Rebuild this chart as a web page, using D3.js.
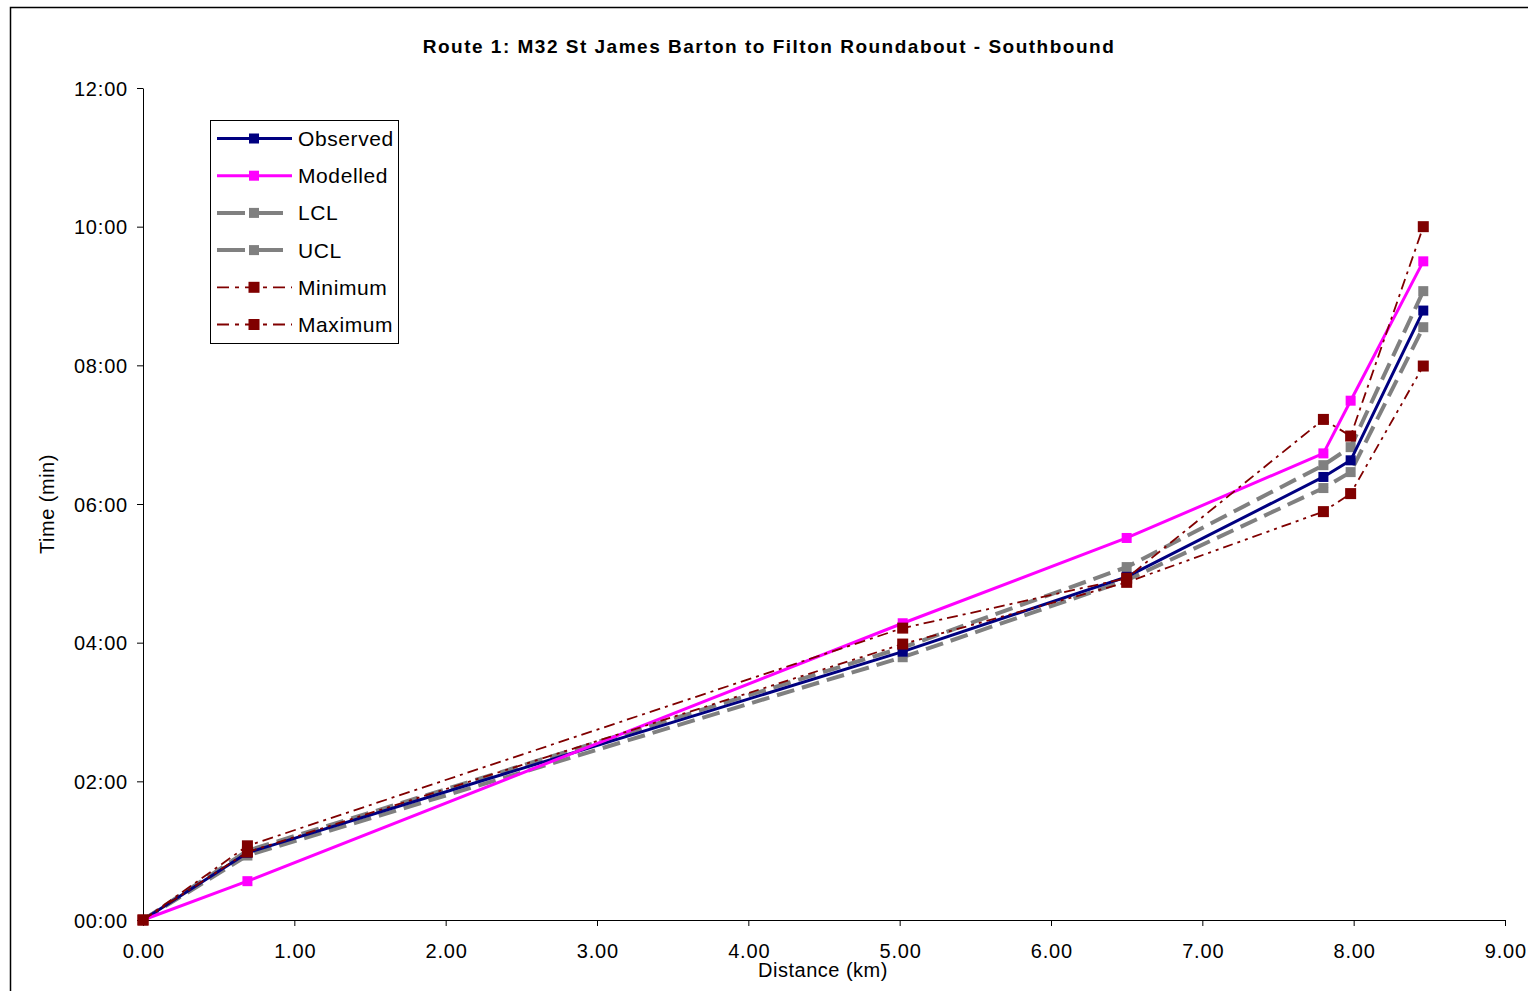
<!DOCTYPE html>
<html>
<head>
<meta charset="utf-8">
<script src="https://cdn.jsdelivr.net/npm/d3@7"></script>
<style>
  html, body { margin: 0; padding: 0; background: #fff; }
  svg { display: block; }
  text { font-family: "Liberation Sans", Arial, sans-serif; fill: #000; }
</style>
</head>
<body>
<svg id="chart" width="1528" height="991"></svg>
<script>
// ---- data ----
const distances = [0, 0.69, 5.02, 6.5, 7.8, 7.98, 8.46];
const observed  = [0, 0.97, 3.87, 4.95, 6.39, 6.63, 8.79];
const modelled  = [0, 0.56, 4.28, 5.51, 6.73, 7.49, 9.50];
const lcl       = [0, 0.93, 3.79, 4.90, 6.23, 6.46, 8.55];
const ucl       = [0, 1.00, 3.93, 5.09, 6.56, 6.82, 9.07];
const minimum   = [0, 0.98, 3.98, 4.87, 5.89, 6.15, 7.99];
const maximum   = [0, 1.07, 4.21, 4.93, 7.22, 6.98, 10.00];
const xTicks = [0, 1, 2, 3, 4, 5, 6, 7, 8, 9];
const yTicks = [0, 2, 4, 6, 8, 10, 12];
const yTickLabels = ["00:00", "02:00", "04:00", "06:00", "08:00", "10:00", "12:00"];
const seriesNames = ["Observed", "Modelled", "LCL", "UCL", "Minimum", "Maximum"];
const titleText = "Route 1: M32 St James Barton to Filton Roundabout - Southbound";
const xTitle = "Distance (km)";
const yTitle = "Time (min)";

(function () {
const styles = [
  { color: "#000080", width: 3,   dash: null,            marker: 10 },
  { color: "#FF00FF", width: 3,   dash: null,            marker: 10 },
  { color: "#808080", width: 4,   dash: "18,8",          marker: 10 },
  { color: "#808080", width: 4,   dash: "18,8",          marker: 10 },
  { color: "#800000", width: 1.8, dash: "10,5,3,5,3,5",  marker: 11 },
  { color: "#800000", width: 1.8, dash: "11,5,3,5",      marker: 11 }
];
const seriesValues = [observed, modelled, lcl, ucl, minimum, maximum];

const svg = d3.select("#chart");
const pl = 143, pr = 1505, pt = 88, pb = 920;

svg.append("rect").attr("x", 10.5).attr("y", 7.5).attr("width", 1530).attr("height", 1000)
  .attr("fill", "none").attr("stroke", "#000").attr("stroke-width", 1.5);

const x = d3.scaleLinear().domain([0, 9]).range([pl, pr]);
const y = d3.scaleLinear().domain([0, 12]).range([pb, pt]);

const xAxis = d3.axisBottom(x).tickValues(xTicks).tickFormat(d3.format(".2f")).tickSize(6).tickSizeOuter(0);
const yAxis = d3.axisLeft(y).tickValues(yTicks).tickFormat((d, i) => yTickLabels[i]).tickSize(6).tickSizeOuter(0);

const gx = svg.append("g").attr("transform", `translate(0,${pb})`).call(xAxis);
gx.selectAll("text").attr("font-size", 20).attr("dy", "0").attr("y", 38).attr("dx", 0.4)
  .style("letter-spacing", "0.8px")
  .style("font-family", "'Liberation Sans', Arial, sans-serif");
const gy = svg.append("g").attr("transform", `translate(${pl},0)`).call(yAxis);
gy.selectAll("text").attr("font-size", 20).attr("x", -15).attr("dy", "0.35em")
  .style("letter-spacing", "0.8px")
  .style("font-family", "'Liberation Sans', Arial, sans-serif");
svg.selectAll(".domain, .tick line").attr("stroke", "#000").attr("stroke-width", 1);

svg.append("text").attr("x", 769).attr("y", 53).attr("text-anchor", "middle")
  .attr("font-size", 19).attr("font-weight", "bold").style("letter-spacing", "1.5px").text(titleText);
svg.append("text").attr("x", 823).attr("y", 977).attr("text-anchor", "middle")
  .attr("font-size", 20).style("letter-spacing", "0.5px").text(xTitle);
svg.append("text").attr("transform", `translate(54,${(pt + pb) / 2}) rotate(-90)`)
  .attr("text-anchor", "middle").attr("font-size", 20).style("letter-spacing", "0.5px").text(yTitle);

const line = d3.line().x((d, i) => x(distances[i])).y(d => y(d));
const order = [2, 3, 0, 1, 4, 5];
order.forEach(k => {
  const s = styles[k];
  const g = svg.append("g");
  g.append("path").datum(seriesValues[k]).attr("d", line)
    .attr("fill", "none").attr("stroke", s.color).attr("stroke-width", s.width)
    .attr("stroke-dasharray", s.dash).attr("stroke-linejoin", "round");
  g.selectAll("rect").data(seriesValues[k]).enter().append("rect")
    .attr("x", (d, i) => x(distances[i]) - s.marker / 2)
    .attr("y", d => y(d) - s.marker / 2)
    .attr("width", s.marker).attr("height", s.marker)
    .attr("fill", s.color);
});

const lg = svg.append("g");
lg.append("rect").attr("x", 210.5).attr("y", 120.5).attr("width", 188).attr("height", 223)
  .attr("fill", "#fff").attr("stroke", "#000").attr("stroke-width", 1);
seriesNames.forEach((name, k) => {
  const s = styles[k];
  const yy = 138.5 + k * 37.2;
  lg.append("line").attr("x1", 217).attr("x2", 292).attr("y1", yy).attr("y2", yy)
    .attr("stroke", s.color).attr("stroke-width", s.width)
    .attr("stroke-dasharray", k >= 2 ? (k >= 4 ? "12,6,4,6" : "28,10") : null);
  lg.append("rect").attr("x", 254 - s.marker / 2).attr("y", yy - s.marker / 2)
    .attr("width", s.marker).attr("height", s.marker).attr("fill", s.color);
  lg.append("text").attr("x", 298).attr("y", yy).attr("dy", "0.36em")
    .attr("font-size", 21).style("letter-spacing", "0.6px").text(name);
});
})();
</script>
</body>
</html>
